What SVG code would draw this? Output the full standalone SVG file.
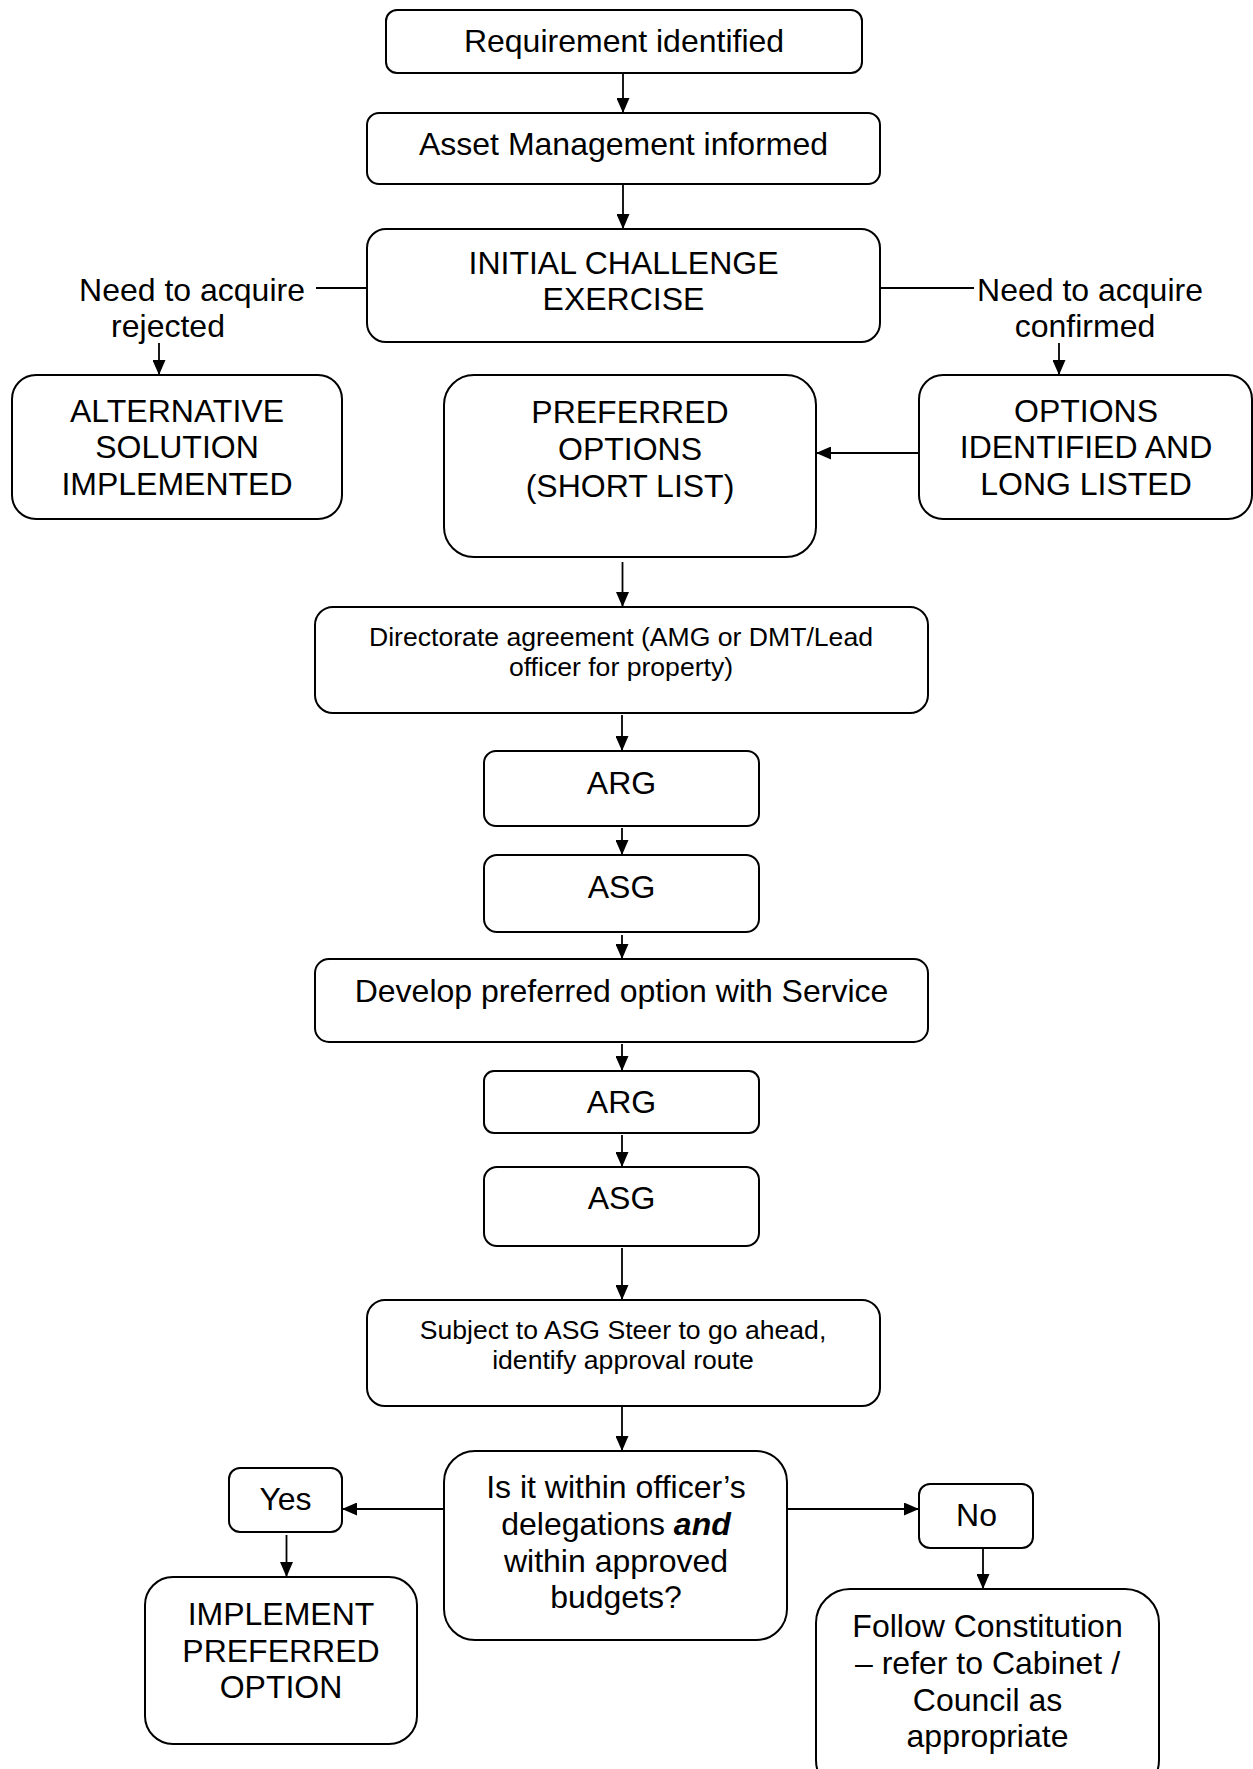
<svg xmlns="http://www.w3.org/2000/svg" width="1253" height="1769" viewBox="0 0 1253 1769">
  <style>
    .box { fill: #ffffff; stroke: #000000; stroke-width: 2; }
    .t { font-family: "Liberation Sans", Arial, sans-serif; font-size: 32px; fill: #000000; text-anchor: middle; }
    .s { font-size: 26.6px; }
    .link { fill: none; stroke: #000000; stroke-width: 1.8; }
    .arrow { marker-end: url(#head); }
  </style>
  <defs>
    <marker id="head" viewBox="0 0 15 13" refX="15" refY="6.5" markerWidth="15" markerHeight="13" markerUnits="userSpaceOnUse" orient="auto">
      <path d="M0,0 L15,6.5 L0,13 z" fill="#000000"/>
    </marker>
  </defs>
  <rect width="1253" height="1769" fill="#ffffff"/>

  <!-- connectors -->
  <g id="connectors">
    <line class="link arrow" x1="623" y1="74" x2="623" y2="113"/>
    <line class="link arrow" x1="623" y1="185" x2="623" y2="229"/>
    <line class="link" x1="316" y1="288" x2="367" y2="288"/>
    <line class="link arrow" x1="159" y1="343" x2="159" y2="375"/>
    <line class="link" x1="880" y1="288" x2="974" y2="288"/>
    <line class="link arrow" x1="1059" y1="343" x2="1059" y2="375"/>
    <line class="link arrow" x1="919" y1="453" x2="816" y2="453"/>
    <line class="link arrow" x1="622.5" y1="562" x2="622.5" y2="607"/>
    <line class="link arrow" x1="622" y1="715" x2="622" y2="751"/>
    <line class="link arrow" x1="622" y1="828" x2="622" y2="855"/>
    <line class="link arrow" x1="622" y1="935" x2="622" y2="959"/>
    <line class="link arrow" x1="622" y1="1044" x2="622" y2="1071"/>
    <line class="link arrow" x1="622" y1="1135" x2="622" y2="1167"/>
    <line class="link arrow" x1="622" y1="1248" x2="622" y2="1300"/>
    <line class="link arrow" x1="622" y1="1407" x2="622" y2="1451"/>
    <line class="link arrow" x1="444" y1="1509" x2="342" y2="1509"/>
    <line class="link arrow" x1="787" y1="1509" x2="919" y2="1509"/>
    <line class="link arrow" x1="286.5" y1="1535" x2="286.5" y2="1577"/>
    <line class="link arrow" x1="983" y1="1549" x2="983" y2="1589"/>
  </g>

  <!-- branch labels -->
  <g id="label-rejected">
    <text class="t" x="192" y="301">Need to acquire</text>
    <text class="t" x="168" y="337">rejected</text>
  </g>
  <g id="label-confirmed">
    <text class="t" x="1090" y="301">Need to acquire</text>
    <text class="t" x="1085" y="337">confirmed</text>
  </g>

  <!-- nodes -->
  <g id="requirement">
    <rect class="box" x="386" y="10" width="476" height="63" rx="11"/>
    <text class="t" x="624" y="52">Requirement identified</text>
  </g>
  <g id="asset-management">
    <rect class="box" x="367" y="113" width="513" height="71" rx="12"/>
    <text class="t" x="623.5" y="155">Asset Management informed</text>
  </g>
  <g id="initial-challenge">
    <rect class="box" x="367" y="229" width="513" height="113" rx="19"/>
    <text class="t" x="623.5" y="274">INITIAL CHALLENGE</text>
    <text class="t" x="623.5" y="310">EXERCISE</text>
  </g>
  <g id="alternative-solution">
    <rect class="box" x="12" y="375" width="330" height="144" rx="24"/>
    <text class="t" x="177" y="422">ALTERNATIVE</text>
    <text class="t" x="177" y="458">SOLUTION</text>
    <text class="t" x="177" y="495">IMPLEMENTED</text>
  </g>
  <g id="preferred-options">
    <rect class="box" x="444" y="375" width="372" height="182" rx="30"/>
    <text class="t" x="630" y="423">PREFERRED</text>
    <text class="t" x="630" y="460">OPTIONS</text>
    <text class="t" x="630" y="497">(SHORT LIST)</text>
  </g>
  <g id="options-long-list">
    <rect class="box" x="919" y="375" width="333" height="144" rx="24"/>
    <text class="t" x="1086" y="422">OPTIONS</text>
    <text class="t" x="1086" y="458">IDENTIFIED AND</text>
    <text class="t" x="1086" y="495">LONG LISTED</text>
  </g>
  <g id="directorate-agreement">
    <rect class="box" x="315" y="607" width="613" height="106" rx="18"/>
    <text class="t s" x="621" y="646">Directorate agreement (AMG or DMT/Lead</text>
    <text class="t s" x="621" y="676">officer for property)</text>
  </g>
  <g id="arg-1">
    <rect class="box" x="484" y="751" width="275" height="75" rx="12"/>
    <text class="t" x="621.5" y="794">ARG</text>
  </g>
  <g id="asg-1">
    <rect class="box" x="484" y="855" width="275" height="77" rx="13"/>
    <text class="t" x="621.5" y="898">ASG</text>
  </g>
  <g id="develop-option">
    <rect class="box" x="315" y="959" width="613" height="83" rx="14"/>
    <text class="t" x="621.5" y="1002">Develop preferred option with Service</text>
  </g>
  <g id="arg-2">
    <rect class="box" x="484" y="1071" width="275" height="62" rx="10"/>
    <text class="t" x="621.5" y="1113">ARG</text>
  </g>
  <g id="asg-2">
    <rect class="box" x="484" y="1167" width="275" height="79" rx="13"/>
    <text class="t" x="621.5" y="1209">ASG</text>
  </g>
  <g id="approval-route">
    <rect class="box" x="367" y="1300" width="513" height="106" rx="18"/>
    <text class="t s" x="623" y="1339">Subject to ASG Steer to go ahead,</text>
    <text class="t s" x="623" y="1369">identify approval route</text>
  </g>
  <g id="delegation-check">
    <rect class="box" x="444" y="1451" width="343" height="189" rx="31"/>
    <text class="t" x="616" y="1498">Is it within officer’s</text>
    <text class="t" x="616" y="1535">delegations <tspan font-weight="bold" font-style="italic">and</tspan></text>
    <text class="t" x="616" y="1572">within approved</text>
    <text class="t" x="616" y="1608">budgets?</text>
  </g>
  <g id="yes">
    <rect class="box" x="229" y="1468" width="113" height="64" rx="11"/>
    <text class="t" x="285.5" y="1510">Yes</text>
  </g>
  <g id="no">
    <rect class="box" x="919" y="1484" width="114" height="64" rx="11"/>
    <text class="t" x="976.5" y="1526">No</text>
  </g>
  <g id="implement-option">
    <rect class="box" x="145" y="1577" width="272" height="167" rx="28"/>
    <text class="t" x="281" y="1625">IMPLEMENT</text>
    <text class="t" x="281" y="1662">PREFERRED</text>
    <text class="t" x="281" y="1698">OPTION</text>
  </g>
  <g id="follow-constitution">
    <rect class="box" x="816" y="1589" width="343" height="205" rx="34"/>
    <text class="t" x="987.5" y="1637">Follow Constitution</text>
    <text class="t" x="987.5" y="1674">– refer to Cabinet /</text>
    <text class="t" x="987.5" y="1711">Council as</text>
    <text class="t" x="987.5" y="1747">appropriate</text>
  </g>
</svg>
